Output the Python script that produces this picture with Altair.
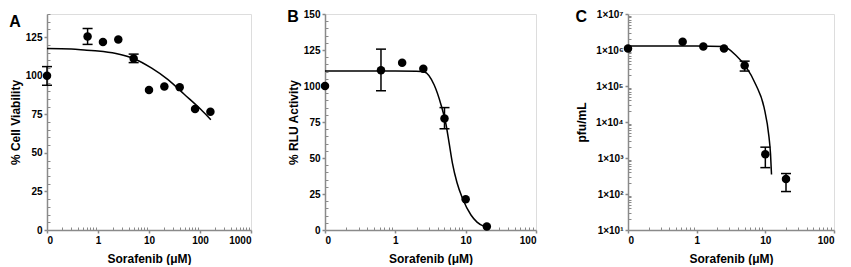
import altair as alt
import pandas as pd

FONT = "Liberation Sans"
GRAY = "#8a8a8a"

# ---------------- Panel A: % Cell Viability ----------------
a_x = [0.1, 0.625, 1.25, 2.5, 5, 10, 20, 40, 80, 160]
a_y = [100, 125.4, 121.8, 123.5, 111.2, 90.7, 93, 92.6, 78.4, 76.7]
a_err_x = [0.1, 0.625, 5]
a_err_lo = [93.8, 120.3, 108.5]
a_err_hi = [105.9, 130.6, 114.0]
a_fit_x = [0.1, 0.3, 0.6, 1, 2.25, 5, 11.3, 23.6, 49, 102, 163]
a_fit_y = [117.6, 117.3, 116.5, 116.0, 114.4, 111.2, 104.9, 97.5, 88.0, 78.4, 71.5]

# ---------------- Panel B: % RLU Activity ----------------
b_x = [0.1, 0.625, 1.25, 2.5, 5, 10, 20]
b_y = [100, 110.9, 116.1, 112.0, 77.5, 21.3, 2.5]
b_err_x = [0.625, 5]
b_err_lo = [96.7, 70.3]
b_err_hi = [125.6, 85.0]
b_fit_x = [0.1, 1, 2.0, 2.58, 3.57, 4.45, 5.24, 5.83, 6.48, 7.52, 9.06, 11.9, 14.5, 18.4, 20]
b_fit_y = [110.4, 110.4, 110.2, 109.8, 100.7, 87.2, 73.6, 60.1, 46.5, 33.0, 21.7, 10.4, 5.5, 2.5, 2.0]

# ---------------- Panel C: pfu/mL ----------------
c_x = [0.1, 0.625, 1.25, 2.5, 5, 10, 20]
c_y = [1.1e6, 1.7e6, 1.25e6, 1.1e6, 3.7e5, 1.28e3, 2.6e2]
c_err_x = [5, 10, 20]
c_err_lo = [2.6e5, 5.4e2, 1.17e2]
c_err_hi = [4.9e5, 2.0e3, 3.7e2]
c_fit_x = [0.1, 1, 2.44, 3.78, 5.24, 7.3, 9.6, 11.3, 11.9, 12.3]
c_fit_y = [1.3e6, 1.3e6, 1.25e6, 6.9e5, 3.4e5, 1.07e5, 2.5e4, 3.85e3, 1.3e3, 3.5e2]

x_major_a = [0.1, 1, 10, 100, 1000]
x_major_bc = [0.1, 1, 10, 100]
y_major_a = [0, 25, 50, 75, 100, 125]
y_major_b = [0, 25, 50, 75, 100, 125, 150]
y_major_c = [1e1, 1e2, 1e3, 1e4, 1e5, 1e6, 1e7]


def log_minor(lo_exp, hi_exp):
    return [k * 10.0 ** e for e in range(lo_exp, hi_exp) for k in range(2, 10)]


def lin_minor(top):
    return [v for v in range(5, top + 1, 5) if v % 25]


AX = dict(domainColor=GRAY, domainWidth=1.5, tickColor=GRAY, tickWidth=1.5,
          labelFont=FONT, labelFontSize=10, labelFontWeight="bold", labelColor="black",
          titleFont=FONT, titleFontSize=12, titleFontWeight="bold", titleColor="black",
          grid=False)


def panel(letter, x, y, ex, elo, ehi, fx, fy, xdom, xmaj, xmin, ydom, ymaj, ymin,
          ylog, ytitle, ylabel_expr, w, h, ytitle_pad):
    xs = alt.Scale(type="log", domain=xdom, nice=False, padding=0)
    if ylog:
        ys = alt.Scale(type="log", domain=ydom, nice=False, padding=0)
    else:
        ys = alt.Scale(type="linear", domain=ydom, nice=False, zero=False, padding=0)

    pts = pd.DataFrame({"x": x, "y": y})
    fit = pd.DataFrame({"x": fx, "y": fy})
    err = pd.DataFrame({"x": ex, "lo": elo, "hi": ehi})

    major_x = alt.Axis(values=xmaj, orient="bottom", tickSize=3, labelPadding=2,
                       labelExpr="datum.value < 0.5 ? '0' : format(datum.value, 'd')",
                       title="Sorafenib (μM)", titlePadding=8, **AX)
    minor_x = alt.Axis(values=xmin, orient="bottom", labels=False, domain=False,
                       tickSize=3, offset=-3, title=None, tickColor=GRAY, tickWidth=1,
                       grid=False)
    y_kwargs = dict(values=ymaj, orient="left", tickSize=3, labelPadding=2,
                    title=ytitle, titlePadding=ytitle_pad, **AX)
    if ylabel_expr:
        y_kwargs["labelExpr"] = ylabel_expr
    major_y = alt.Axis(**y_kwargs)
    minor_y = alt.Axis(values=ymin, orient="left", labels=False, domain=False,
                       tickSize=3, offset=-3, title=None, tickColor=GRAY, tickWidth=1,
                       grid=False)

    line = alt.Chart(fit).mark_line(color="black", strokeWidth=1.5,
                                    interpolate="monotone").encode(
        x=alt.X("x:Q", scale=xs, axis=major_x),
        y=alt.Y("y:Q", scale=ys, axis=major_y))
    rules = alt.Chart(err).mark_rule(color="black", strokeWidth=1.5).encode(
        x=alt.X("x:Q", scale=xs, axis=None),
        y=alt.Y("lo:Q", scale=ys, axis=None), y2="hi:Q")
    cap_lo = alt.Chart(err).mark_tick(orient="horizontal", size=10, thickness=1.5,
                                      color="black", opacity=1).encode(
        x=alt.X("x:Q", scale=xs, axis=None),
        y=alt.Y("lo:Q", scale=ys, axis=None))
    cap_hi = alt.Chart(err).mark_tick(orient="horizontal", size=10, thickness=1.5,
                                      color="black", opacity=1).encode(
        x=alt.X("x:Q", scale=xs, axis=None),
        y=alt.Y("hi:Q", scale=ys, axis=None))
    dots = alt.Chart(pts).mark_circle(size=72, color="black", opacity=1).encode(
        x=alt.X("x:Q", scale=xs, axis=minor_x),
        y=alt.Y("y:Q", scale=ys, axis=minor_y))

    return alt.layer(line, rules, cap_lo, cap_hi, dots).resolve_axis(
        x="independent", y="independent").properties(
        width=w, height=h,
        title=alt.TitleParams(letter, anchor="start", frame="bounds", font=FONT,
                              fontSize=16, fontWeight="bold", color="black",
                              offset=-16))


sup = "['⁰','¹','²','³','⁴','⁵','⁶','⁷','⁸','⁹'][round(log(datum.value)/LN10)]"

pa = panel("A", a_x, a_y, a_err_x, a_err_lo, a_err_hi, a_fit_x, a_fit_y,
           [0.1, 1000], x_major_a, log_minor(-1, 3), [0, 140], y_major_a, lin_minor(140),
           False, "% Cell Viability", None, 204, 216, 3)
pb = panel("B", b_x, b_y, b_err_x, b_err_lo, b_err_hi, b_fit_x, b_fit_y,
           [0.1, 100], x_major_bc, log_minor(-1, 2), [0, 150], y_major_b, lin_minor(145),
           False, "% RLU Activity", None, 211, 216, 3)
pc = panel("C", c_x, c_y, c_err_x, c_err_lo, c_err_hi, c_fit_x, c_fit_y,
           [0.1, 100], x_major_bc, log_minor(-1, 2), [10, 1e7], y_major_c, log_minor(1, 7),
           True, "pfu/mL", "'1×10' + " + sup, 206, 216, 7)

chart = alt.hconcat(alt.hconcat(pa, pb, spacing=33), pc, spacing=37).properties(
    padding={"left": 0, "top": 0, "right": 0, "bottom": 0}
).configure_view(stroke=None).configure(background="white")

chart.save("out.html", embed_options={"renderer": "svg", "actions": False})
